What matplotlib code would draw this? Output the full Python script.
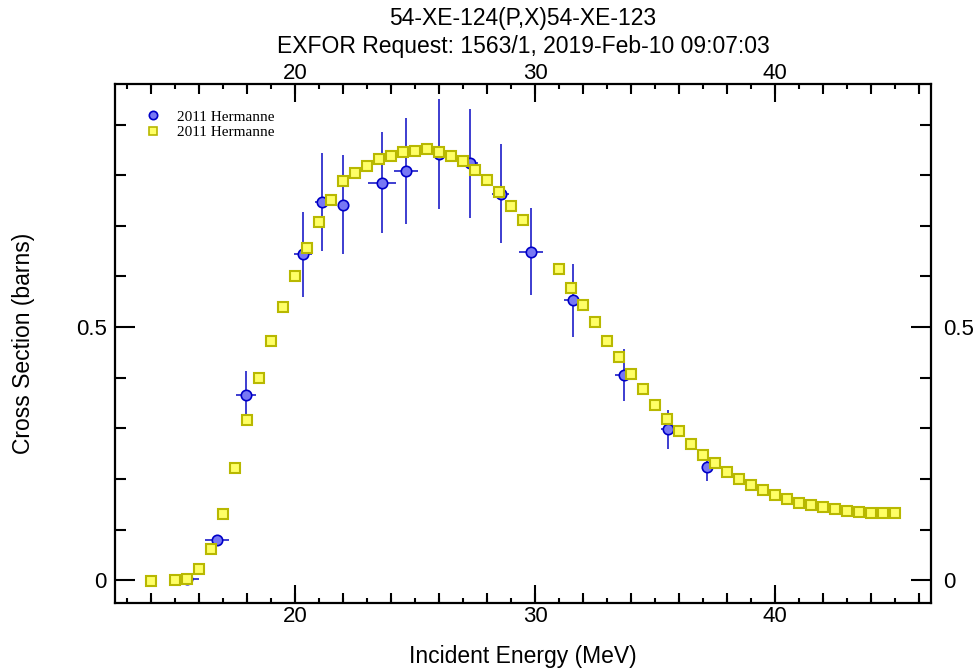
import matplotlib.pyplot as plt
from matplotlib.lines import Line2D
from matplotlib.ticker import MultipleLocator, FixedLocator, FuncFormatter, NullFormatter

plt.rcParams['font.family'] = ['Liberation Sans', 'DejaVu Sans']

# measured points (Hermanne 2011), energy in MeV, cross section in barns
exp_e = [15.5, 16.76, 17.96, 20.33, 21.11, 22.01, 23.64, 24.63, 26.0, 27.29,
         28.57, 29.82, 31.6, 33.72, 35.54, 37.15]
exp_cs = [0.002, 0.079, 0.366, 0.644, 0.747, 0.742, 0.785, 0.808, 0.842, 0.823,
          0.763, 0.649, 0.553, 0.405, 0.298, 0.224]
exp_de = [0.5, 0.5, 0.4, 0.39, 0.28, 0.2, 0.58, 0.5, 0.45, 0.35,
          0.36, 0.5, 0.4, 0.38, 0.28, 0.2]
exp_dcs = [0.003, 0.01, 0.048, 0.084, 0.097, 0.097, 0.10, 0.105, 0.109, 0.107,
           0.098, 0.086, 0.072, 0.052, 0.039, 0.029]

# second Hermanne set (square symbols)
calc_e = [14.0, 15.0, 15.5, 16.0, 16.5, 17.0, 17.5, 18.0, 18.5, 19.0,
          19.5, 20.0, 20.5, 21.0, 21.5, 22.0, 22.5, 23.0, 23.5, 24.0,
          24.5, 25.0, 25.5, 26.0, 26.5, 27.0, 27.5, 28.0, 28.5, 29.0,
          29.5, 31.0, 31.5, 32.0, 32.5, 33.0, 33.5, 34.0, 34.5, 35.0,
          35.5, 36.0, 36.5, 37.0, 37.5, 38.0, 38.5, 39.0, 39.5, 40.0,
          40.5, 41.0, 41.5, 42.0, 42.5, 43.0, 43.5, 44.0, 44.5, 45.0]
calc_cs = [-0.002, 0.0, 0.002, 0.022, 0.062, 0.130, 0.221, 0.317, 0.400, 0.473,
           0.540, 0.601, 0.657, 0.707, 0.750, 0.788, 0.805, 0.818, 0.831, 0.838,
           0.846, 0.848, 0.851, 0.845, 0.838, 0.828, 0.810, 0.790, 0.767, 0.739,
           0.711, 0.614, 0.578, 0.543, 0.509, 0.473, 0.440, 0.407, 0.377, 0.346,
           0.319, 0.295, 0.269, 0.248, 0.231, 0.213, 0.200, 0.188, 0.178, 0.168,
           0.160, 0.153, 0.148, 0.145, 0.140, 0.137, 0.135, 0.132, 0.132, 0.132]

legend_labels = ['2011 Hermanne', '2011 Hermanne']

circle_face = '#7878f4'
circle_edge = '#0000c8'
bar_color = '#1c1cc8'
square_face = '#ffff66'
square_edge = '#b8b800'

W, H = 978, 668
fig = plt.figure(figsize=(W / 100, H / 100), dpi=100)
ax = fig.add_axes([115 / W, 65 / H, 816 / W, 519 / H])

ax.errorbar(exp_e, exp_cs, xerr=exp_de, yerr=exp_dcs, fmt='o', ms=7.5,
            mfc=circle_face, mec=circle_edge, mew=1.2, ecolor=bar_color,
            elinewidth=1.2, capsize=0, zorder=2)
ax.plot(calc_e, calc_cs, 's', ms=7.2, mfc=square_face, mec=square_edge,
        mew=1.5, zorder=3)

ax.set_xlim(12.5, 46.5)
ax.set_ylim(-0.045, 0.98)

for s in ax.spines.values():
    s.set_linewidth(1.6)

lab_fmt = FuncFormatter(lambda v, p: f'{v:g}')
tens_fmt = FuncFormatter(lambda v, p: f'{v:g}' if abs(v % 10) < 1e-6 else '')

# x: long ticks at 10, short at 1 (medium at 2 via secondary axes)
ax.xaxis.set_major_locator(MultipleLocator(10))
ax.xaxis.set_minor_locator(MultipleLocator(1))
ax.xaxis.set_major_formatter(lab_fmt)
ax.tick_params(axis='x', which='major', direction='in', length=13, width=1.5,
               top=True, bottom=True, labeltop=False, labelsize=16, pad=2.5)
ax.tick_params(axis='x', which='minor', direction='in', length=3.6, width=1.5,
               top=True, bottom=True)

# y: long ticks at 0.5, short at 0.1
ax.yaxis.set_major_locator(MultipleLocator(0.5))
ax.yaxis.set_minor_locator(MultipleLocator(0.1))
ax.yaxis.set_major_formatter(lab_fmt)
ax.tick_params(axis='y', which='major', direction='in', length=14.4, width=1.5,
               left=True, right=True, labelsize=16, pad=5.8)
ax.tick_params(axis='y', which='minor', direction='in', length=8, width=1.5,
               left=True, right=True)

# medium ticks every 2 MeV, top axis carries the top labels
sec_b = ax.secondary_xaxis('bottom')
sec_b.xaxis.set_major_locator(MultipleLocator(2))
sec_b.xaxis.set_major_formatter(NullFormatter())
sec_b.tick_params(direction='in', length=7.2, width=1.5)
sec_t = ax.secondary_xaxis('top')
sec_t.xaxis.set_major_locator(MultipleLocator(2))
sec_t.xaxis.set_major_formatter(tens_fmt)
sec_t.tick_params(direction='in', length=7.2, width=1.5, labelsize=16, pad=0)
sec_r = ax.secondary_yaxis('right')
sec_r.yaxis.set_major_locator(FixedLocator([0, 0.5]))
sec_r.yaxis.set_major_formatter(lab_fmt)
sec_r.tick_params(length=0, labelsize=16, pad=8.4)
for sec in (sec_b, sec_t, sec_r):
    for s in sec.spines.values():
        s.set_visible(False)

ax.set_xlabel('Incident Energy (MeV)', fontsize=16.5)
ax.xaxis.set_label_coords(0.5, -0.081)
ax.set_ylabel('Cross Section (barns)', fontsize=16.5)
ax.yaxis.set_label_coords(-0.098, 0.5)

fig.text(523 / W, 1 - 19 / H, '54-XE-124(P,X)54-XE-123', ha='center', va='center', fontsize=16.5)
fig.text(523 / W, 1 - 46 / H, 'EXFOR Request: 1563/1, 2019-Feb-10 09:07:03',
         ha='center', va='center', fontsize=16.5)

handles = [Line2D([], [], ls='none', marker='o', ms=6, mfc=circle_face, mec=circle_edge, mew=1.2),
           Line2D([], [], ls='none', marker='s', ms=6, mfc=square_face, mec=square_edge, mew=1.2)]
ax.legend(handles, legend_labels, loc='upper left', bbox_to_anchor=(0.039, 0.950),
          frameon=False, handlelength=0.8, handletextpad=1.2, labelspacing=0.1,
          borderaxespad=0, borderpad=0, prop={'family': 'Liberation Serif', 'size': 11})

plt.savefig('out.png', dpi=100)
plt.close()
